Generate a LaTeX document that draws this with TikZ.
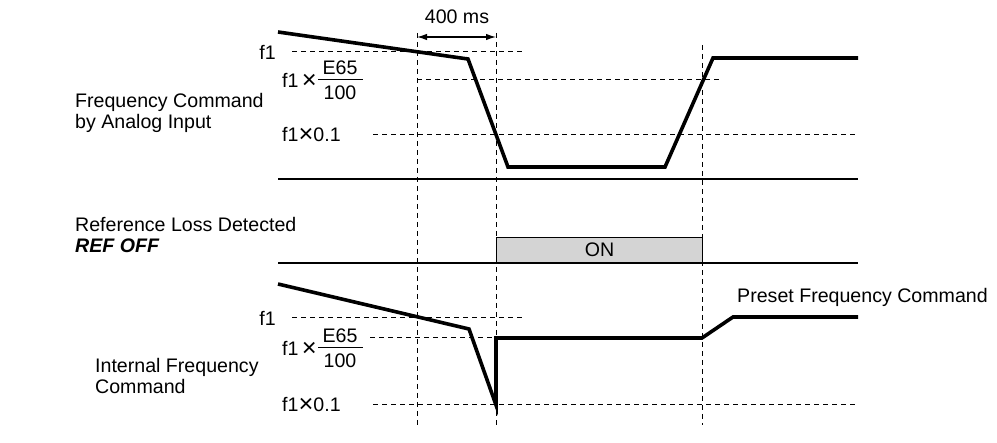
\documentclass[tikz,border=0pt]{standalone}
\usepackage{graphicx}
\usepackage{fontspec}
\setmainfont{Liberation Sans}
\usetikzlibrary{arrows.meta}
\newcommand{\bigtimes}{\raisebox{-1.8pt}{\scalebox{1.3}{×}}}
\begin{document}
\begin{tikzpicture}[x=1pt,y=-1pt,
  lbl/.style={inner sep=0pt, font=\fontsize{19.6}{20.5}\selectfont},
  wave/.style={line width=3.6pt, line join=miter},
  guide/.style={line width=1pt, dash pattern=on 5pt off 4pt},
  sep/.style={line width=1.3pt},
  dim/.style={line width=1.2pt, {Latex[length=10pt,width=6.5pt]}-{Latex[length=10pt,width=6.5pt]}}]
\useasboundingbox (0,0) rectangle (997,443);

% vertical guides
\coordinate (v1t) at (417,33); \coordinate (v1b) at (417,425);
\coordinate (v2t) at (496,33); \coordinate (v2b) at (496,425);
\coordinate (v3t) at (702,45); \coordinate (v3b) at (702,425);
\draw[guide] (v1t) -- (v1b);
\draw[guide] (v2t) -- (v2b);
\draw[guide] (v3t) -- (v3b);

% 400 ms
\coordinate (a1) at (417,37); \coordinate (a2) at (496,37);
\draw[dim] (a1) -- (a2);
\node[lbl] (ms) at (457,17) {400 ms};

% top section guides
\draw[guide] (292,52) -- (523,52);
\draw[guide] (417,80) -- (720,80);
\draw[guide] (373,135) -- (858,135);

% top labels
\node[lbl, anchor=east] (tf1) at (276,52) {f1};
\node[lbl, anchor=west] (tf1x) at (282,81) {f1\,\bigtimes};
\draw[line width=1pt] (318,80) -- (363,80);
\node[lbl] (te65) at (340,68) {E65};
\node[lbl] (t100) at (340,93) {100};
\node[lbl, anchor=west] (tf01) at (282,135) {f1\bigtimes0.1};

% top waveform
\draw[wave] (278,32) -- (468,59) -- (508,167) -- (665,167) -- (713,58) -- (858,58);

% separators
\draw[sep] (278,179) -- (858,179);
\draw[sep] (278,263) -- (858,263);

% ON box
\node[draw, line width=1pt, fill=black!17, minimum width=206pt, minimum height=25pt, anchor=south west, inner sep=0pt, font=\fontsize{19.6}{20.5}\selectfont] (on) at (496,263) {ON};

% left labels
\node[lbl, anchor=west, align=left] (fc) at (75,113) {Frequency Command\\by Analog Input};
\node[lbl, anchor=west, align=left] (rl) at (75,235) {Reference Loss Detected\\\textbf{\textit{REF OFF}}};
\node[lbl, anchor=west, align=left] (ifc) at (95,376) {Internal Frequency\\Command};

% bottom guides
\draw[guide] (292,318) -- (523,318);
\draw[guide] (370,338) -- (496,338);
\draw[guide] (373,405) -- (858,405);

% bottom labels
\node[lbl, anchor=east] (bf1) at (276,318) {f1};
\node[lbl, anchor=west] (bf1x) at (282,349) {f1\,\bigtimes};
\draw[line width=1pt] (318,348) -- (363,348);
\node[lbl] (be65) at (340,336) {E65};
\node[lbl] (b100) at (340,361) {100};
\node[lbl, anchor=west] (bf01) at (282,405) {f1\bigtimes0.1};

% bottom waveform
\draw[wave] (278,284) -- (469,329) -- (496,405) -- (496,338) -- (702,338) -- (733,317) -- (858,317);

\node[lbl, anchor=west] (pfc) at (737,297) {Preset Frequency Command};
\end{tikzpicture}
\end{document}
